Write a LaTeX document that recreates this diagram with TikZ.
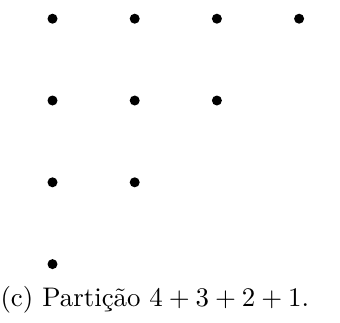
\documentclass[tikz,border=0pt]{standalone}
\begin{document}
\begin{tikzpicture}[x=0.36pt,y=-0.36pt,dot/.style={circle,fill=black,inner sep=0pt,minimum size=3.6pt}]
\useasboundingbox (0,0) rectangle (340,322);
\foreach \r/\n in {1/4,2/3,3/2,4/1}{
  \foreach \c in {1,...,\n}{
    \node[dot] (d\r\c) at ({52.5+82.2*(\c-1)},{18.7+81.8*(\r-1)}) {};
  }
}
\node[anchor=base west,inner sep=0pt,scale=0.967] (cap) at (0,306) {(c) Partição $4+3+2+1$.};
\end{tikzpicture}
\end{document}
